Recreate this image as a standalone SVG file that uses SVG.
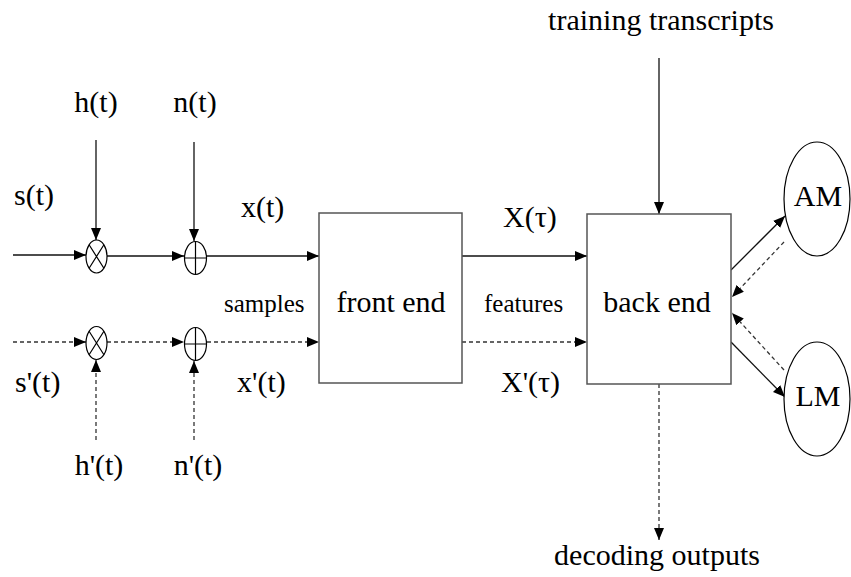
<svg xmlns="http://www.w3.org/2000/svg" width="851" height="577" viewBox="0 0 851 577" font-family="Liberation Serif, Times New Roman, serif">
  <style>
    text { fill: #000; }
    .big { font-size: 30px; }
    .small { font-size: 25px; }
    .mid { text-anchor: middle; }
    .box { fill: #fff; stroke: #555; stroke-width: 1.5; }
    .node { fill: #fff; stroke: #000; stroke-width: 1.2; }
    .glyph { stroke: #000; stroke-width: 1.2; fill: none; }
    .solid { stroke: #111; stroke-width: 1.3; fill: none; marker-end: url(#arrow); }
    .dash { stroke: #333; stroke-width: 1.3; fill: none; stroke-dasharray: 4 3; marker-end: url(#arrow); }
  </style>
  <defs>
    <marker id="arrow" markerUnits="userSpaceOnUse" markerWidth="13" markerHeight="11" refX="12" refY="5" orient="auto">
      <path d="M0,0 L12,5 L0,10 Z" fill="#000"/>
    </marker>
  </defs>

  <rect width="851" height="577" fill="#fff"/>

  <!-- connectors -->
  <g id="connectors">
    <!-- clean signal path -->
    <line class="solid" x1="13" y1="255" x2="86" y2="255"/>
    <line class="solid" x1="107" y1="256" x2="184" y2="256"/>
    <line class="solid" x1="207" y1="256" x2="319" y2="256"/>
    <line class="solid" x1="462" y1="256" x2="587" y2="256"/>
    <line class="solid" x1="96" y1="140" x2="96" y2="240"/>
    <line class="solid" x1="194" y1="142" x2="194" y2="241"/>
    <!-- mismatched signal path -->
    <line class="dash" x1="13" y1="342" x2="86" y2="342"/>
    <line class="dash" x1="107" y1="342" x2="184" y2="342"/>
    <line class="dash" x1="207" y1="342" x2="319" y2="342"/>
    <line class="dash" x1="462" y1="342" x2="587" y2="342"/>
    <line class="dash" x1="96" y1="440" x2="96" y2="360"/>
    <line class="dash" x1="194" y1="440" x2="194" y2="361"/>
    <!-- back end inputs and outputs -->
    <line class="solid" x1="659" y1="58" x2="659" y2="214"/>
    <line class="dash" x1="659" y1="384" x2="659" y2="540"/>
    <line class="solid" x1="731" y1="270" x2="785" y2="216"/>
    <line class="dash" x1="784" y1="242" x2="732" y2="297"/>
    <line class="dash" x1="784" y1="370" x2="732" y2="313"/>
    <line class="solid" x1="731" y1="342" x2="785" y2="397"/>
  </g>

  <!-- multiplier, clean path -->
  <g id="mult1">
    <ellipse class="node" cx="96.5" cy="256.5" rx="10.5" ry="16.5"/>
    <path class="glyph" d="M89.1,244.8 L103.9,268.2 M103.9,244.8 L89.1,268.2"/>
  </g>
  <!-- adder, clean path -->
  <g id="add1">
    <ellipse class="node" cx="195.5" cy="258" rx="11" ry="16.5"/>
    <path class="glyph" d="M184.5,258 L206.5,258 M195.5,241.5 L195.5,274.5"/>
  </g>
  <!-- multiplier, mismatched path -->
  <g id="mult2">
    <ellipse class="node" cx="96.5" cy="343" rx="10.5" ry="16.5"/>
    <path class="glyph" d="M89.1,331.3 L103.9,354.7 M103.9,331.3 L89.1,354.7"/>
  </g>
  <!-- adder, mismatched path -->
  <g id="add2">
    <ellipse class="node" cx="195.5" cy="344" rx="11" ry="16.5"/>
    <path class="glyph" d="M184.5,344 L206.5,344 M195.5,327.5 L195.5,360.5"/>
  </g>

  <g id="front-end">
    <rect class="box" x="319" y="213" width="143" height="170"/>
    <text class="big mid" x="391" y="312">front end</text>
  </g>
  <g id="back-end">
    <rect class="box" x="587" y="214" width="144" height="170"/>
    <text class="big mid" x="657" y="312">back end</text>
  </g>
  <g id="am">
    <ellipse class="node" cx="817" cy="199" rx="33" ry="57"/>
    <text class="big mid" x="818" y="206">AM</text>
  </g>
  <g id="lm">
    <ellipse class="node" cx="817" cy="399" rx="33" ry="57"/>
    <text class="big mid" x="818" y="406">LM</text>
  </g>

  <!-- signal labels -->
  <g id="labels">
    <text class="big mid" x="96" y="112">h(t)</text>
    <text class="big mid" x="195" y="112">n(t)</text>
    <text class="big" x="14" y="205">s(t)</text>
    <text class="big" x="241" y="217">x(t)</text>
    <text class="small" x="224" y="312">samples</text>
    <text class="small" x="484" y="312">features</text>
    <text class="big" x="503" y="227">X(τ)</text>
    <text class="big" x="501" y="392">X'(τ)</text>
    <text class="big" x="15" y="392">s'(t)</text>
    <text class="big" x="237" y="392">x'(t)</text>
    <text class="big mid" x="99" y="475">h'(t)</text>
    <text class="big mid" x="198" y="475">n'(t)</text>
    <text class="big mid" x="661" y="30">training transcripts</text>
    <text class="big mid" x="657" y="565">decoding outputs</text>
  </g>
</svg>
